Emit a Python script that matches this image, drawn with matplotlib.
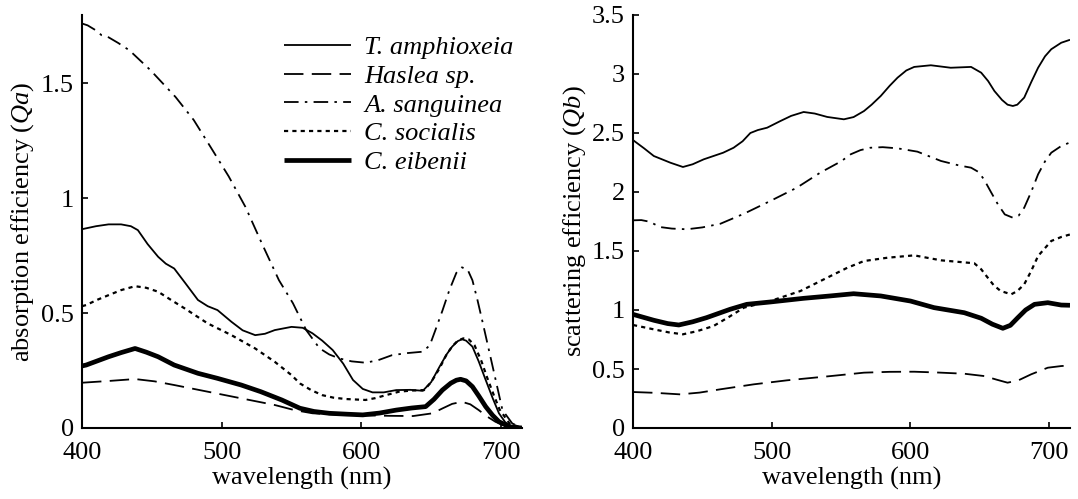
import matplotlib
matplotlib.use("Agg")
import matplotlib.pyplot as plt
from matplotlib.ticker import FuncFormatter

plt.rcParams['font.family'] = ['Liberation Serif', 'DejaVu Serif']
plt.rcParams['mathtext.fontset'] = 'custom'
plt.rcParams['mathtext.it'] = 'Liberation Serif:italic'
plt.rcParams['mathtext.rm'] = 'Liberation Serif'
plt.rcParams['lines.scale_dashes'] = False

species = ["T. amphioxeia", "Haslea sp.", "A. sanguinea", "C. socialis", "C. eibenii"]

# ---- absorption efficiency (Qa) ----
qa_tamph_wl = [400, 410, 419, 428, 435, 440, 447, 454.5, 460, 466, 474, 483, 490, 497, 507, 515, 524, 531, 538, 550, 558, 565, 572, 579.5, 587, 594, 601, 608, 616, 625, 635, 644, 650, 656, 661, 665, 669, 672, 675, 679.5, 684, 689, 694, 698.5, 703, 708, 715]
qa_tamph = [0.865, 0.878, 0.886, 0.886, 0.878, 0.861, 0.80, 0.745, 0.715, 0.694, 0.63, 0.557, 0.53, 0.513, 0.462, 0.425, 0.404, 0.41, 0.426, 0.44, 0.436, 0.412, 0.38, 0.339, 0.28, 0.209, 0.17, 0.155, 0.155, 0.165, 0.166, 0.162, 0.2, 0.267, 0.32, 0.354, 0.378, 0.386, 0.38, 0.354, 0.29, 0.209, 0.13, 0.064, 0.025, 0.006, 0.0]

qa_hasl_wl = [400, 420, 438, 452, 466, 490, 514, 538, 552, 565, 585, 601, 620, 637, 651, 658, 665, 672, 678, 684, 690, 696, 701, 706, 715]
qa_hasl = [0.197, 0.205, 0.213, 0.203, 0.187, 0.158, 0.129, 0.10, 0.078, 0.064, 0.057, 0.055, 0.053, 0.052, 0.064, 0.085, 0.105, 0.114, 0.103, 0.078, 0.05, 0.027, 0.014, 0.006, 0.0]

qa_asang_wl = [400, 404, 410, 414, 419, 426, 434, 449, 467, 480, 492, 505, 517, 529, 541, 551, 560.5, 570, 577, 584, 593, 603, 612, 622, 633, 644, 649, 653, 658, 663, 668, 672, 676, 679.5, 683, 687, 694, 701, 708, 715]
qa_asang = [1.76, 1.752, 1.73, 1.709, 1.70, 1.675, 1.643, 1.557, 1.44, 1.34, 1.223, 1.095, 0.962, 0.80, 0.643, 0.543, 0.426, 0.347, 0.32, 0.303, 0.29, 0.284, 0.295, 0.317, 0.326, 0.332, 0.36, 0.426, 0.51, 0.60, 0.675, 0.699, 0.69, 0.643, 0.56, 0.455, 0.267, 0.078, 0.02, 0.0]

qa_csoc_wl = [400, 403, 411, 419, 428, 438, 446, 454.5, 463, 473.6, 490, 507, 524, 538, 550, 556, 564, 572, 580, 589, 603, 610, 617.6, 627, 636, 645, 650, 656, 661, 665, 669, 673, 677, 681, 686, 690, 695, 699, 706, 715]
qa_csoc = [0.53, 0.535, 0.558, 0.578, 0.60, 0.617, 0.61, 0.593, 0.56, 0.52, 0.455, 0.404, 0.346, 0.288, 0.23, 0.194, 0.165, 0.143, 0.132, 0.126, 0.122, 0.13, 0.143, 0.158, 0.163, 0.165, 0.2, 0.26, 0.32, 0.355, 0.38, 0.39, 0.385, 0.36, 0.29, 0.22, 0.14, 0.08, 0.02, 0.0]

qa_ceib_wl = [400, 403, 411, 419, 428, 438, 446, 454.5, 466, 483, 497, 514, 528, 543, 556, 566, 577, 590, 601, 613, 625, 636, 646, 652, 658, 664, 668, 671, 675, 679.5, 684, 689, 694, 698.6, 706, 715]
qa_ceib = [0.27, 0.274, 0.292, 0.31, 0.328, 0.346, 0.33, 0.31, 0.274, 0.238, 0.216, 0.187, 0.158, 0.122, 0.086, 0.072, 0.064, 0.06, 0.057, 0.065, 0.078, 0.087, 0.093, 0.125, 0.165, 0.195, 0.208, 0.212, 0.205, 0.18, 0.14, 0.093, 0.055, 0.027, 0.005, 0.0]

# ---- scattering efficiency (Qb) ----
qb_tamph_wl = [400, 408, 415, 427, 436, 443, 451, 465, 472.5, 479, 484.6, 490, 496.7, 506, 514, 523, 531, 540, 552, 559, 566.5, 572, 578.6, 585, 590.7, 597, 602.7, 614.7, 629, 643.7, 651, 656, 660.5, 666, 670, 673.8, 677, 682, 687, 692, 697, 701.5, 708.7, 715]
qb_tamph = [2.44, 2.37, 2.305, 2.248, 2.212, 2.235, 2.277, 2.333, 2.375, 2.43, 2.50, 2.525, 2.545, 2.60, 2.645, 2.678, 2.665, 2.636, 2.616, 2.635, 2.686, 2.74, 2.814, 2.9, 2.969, 3.03, 3.06, 3.074, 3.053, 3.06, 3.011, 2.94, 2.856, 2.78, 2.74, 2.729, 2.74, 2.8, 2.93, 3.053, 3.15, 3.21, 3.265, 3.29]

qb_hasl_wl = [400, 416, 434, 448, 463, 487, 511, 542.4, 566.5, 585, 602.7, 620, 638.8, 653.3, 662, 670, 678, 687, 699, 708.7, 715]
qb_hasl = [0.305, 0.298, 0.285, 0.3, 0.328, 0.37, 0.404, 0.44, 0.469, 0.476, 0.477, 0.47, 0.46, 0.44, 0.41, 0.384, 0.405, 0.455, 0.511, 0.525, 0.53]

qb_asang_wl = [400, 406, 412, 419.5, 428, 438.8, 450, 463, 480, 499, 518, 535, 550, 557, 564, 571, 580, 590.7, 605, 622, 635, 643.7, 649, 653, 658, 663, 668, 673.8, 678, 682, 687, 692, 697, 701.5, 708.7, 715]
qb_asang = [1.76, 1.762, 1.748, 1.703, 1.69, 1.684, 1.7, 1.731, 1.816, 1.924, 2.036, 2.164, 2.26, 2.32, 2.355, 2.375, 2.38, 2.37, 2.342, 2.263, 2.225, 2.206, 2.17, 2.107, 2.0, 1.896, 1.81, 1.782, 1.8, 1.867, 2.0, 2.15, 2.26, 2.333, 2.39, 2.42]

qb_csoc_wl = [400, 415, 426, 436, 446, 458, 469, 480, 499, 520.7, 540, 554.5, 566.5, 583.4, 602.7, 622, 646, 651, 655.7, 660, 665, 672.6, 677, 682, 687, 692, 701.5, 709, 715]
qb_csoc = [0.873, 0.836, 0.81, 0.794, 0.82, 0.864, 0.94, 1.02, 1.076, 1.161, 1.274, 1.358, 1.415, 1.443, 1.463, 1.421, 1.396, 1.345, 1.274, 1.21, 1.161, 1.133, 1.16, 1.218, 1.33, 1.458, 1.585, 1.62, 1.64]

qb_ceib_wl = [400, 415, 425, 433, 443, 453, 470, 482, 499, 523, 542, 559, 578.6, 600, 617, 638.8, 651, 659, 666.6, 672, 677.4, 683, 689.4, 699, 708.7, 715]
qb_ceib = [0.963, 0.913, 0.885, 0.873, 0.9, 0.935, 1.006, 1.048, 1.068, 1.099, 1.119, 1.138, 1.119, 1.076, 1.02, 0.977, 0.93, 0.88, 0.845, 0.87, 0.935, 1.0, 1.048, 1.062, 1.042, 1.04]

x_ticks = [400, 500, 600, 700]
qa_yticks = [0, 0.5, 1, 1.5]
qb_yticks = [0, 0.5, 1, 1.5, 2, 2.5, 3, 3.5]

styles = [
    dict(color='black', lw=1.3, linestyle='-'),
    dict(color='black', lw=1.3, dashes=(14, 6)),
    dict(color='black', lw=1.3, dashes=(10.5, 4.5, 1.8, 4.5)),
    dict(color='black', lw=1.6, dashes=(3, 3)),
    dict(color='black', lw=3.4, linestyle='-'),
]

fig = plt.figure(figsize=(10.78, 4.99), dpi=100)
ax1 = fig.add_axes([82/1078, 1-428/499, 440/1078, 413/499])
ax2 = fig.add_axes([633/1078, 1-428/499, 437/1078, 413/499])

qa = [(qa_tamph_wl, qa_tamph), (qa_hasl_wl, qa_hasl), (qa_asang_wl, qa_asang), (qa_csoc_wl, qa_csoc), (qa_ceib_wl, qa_ceib)]
qb = [(qb_tamph_wl, qb_tamph), (qb_hasl_wl, qb_hasl), (qb_asang_wl, qb_asang), (qb_csoc_wl, qb_csoc), (qb_ceib_wl, qb_ceib)]

for (wl, v), st, name in zip(qa, styles, species):
    ax1.plot(wl, v, label=name, solid_joinstyle='round', solid_capstyle='butt', **st)
for (wl, v), st, name in zip(qb, styles, species):
    ax2.plot(wl, v, label=name, solid_joinstyle='round', solid_capstyle='butt', **st)

fmt = FuncFormatter(lambda val, pos: '%g' % val)
for ax, yt, ylim in [(ax1, qa_yticks, 1.797), (ax2, qb_yticks, 3.5)]:
    ax.set_xlim(400, 715)
    ax.set_ylim(0, ylim)
    ax.set_xticks(x_ticks)
    ax.set_yticks(yt)
    ax.yaxis.set_major_formatter(fmt)
    ax.spines['top'].set_visible(False)
    ax.spines['right'].set_visible(False)
    ax.spines['left'].set_linewidth(1.5)
    ax.spines['bottom'].set_linewidth(1.5)
    ax.tick_params(direction='in', length=4, width=1.2, labelsize=19)
    ax.tick_params(axis='x', pad=10)
    ax.tick_params(axis='y', pad=6)
    ax.set_xlabel('wavelength (nm)', fontsize=19, labelpad=2)

ax1.set_ylabel(r'absorption efficiency ($\mathit{Qa}$)', fontsize=19, labelpad=3)
ax2.set_ylabel(r'scattering efficiency ($\mathit{Qb}$)', fontsize=19, labelpad=3)

leg = ax1.legend(loc='upper left', bbox_to_anchor=((284-82)/440, 0.95), frameon=False,
                 prop={'family': 'Liberation Serif', 'style': 'italic', 'size': 19},
                 handlelength=2.55, handletextpad=0.5, labelspacing=0.2,
                 borderpad=0, borderaxespad=0)

fig.savefig('out.png', dpi=100)
